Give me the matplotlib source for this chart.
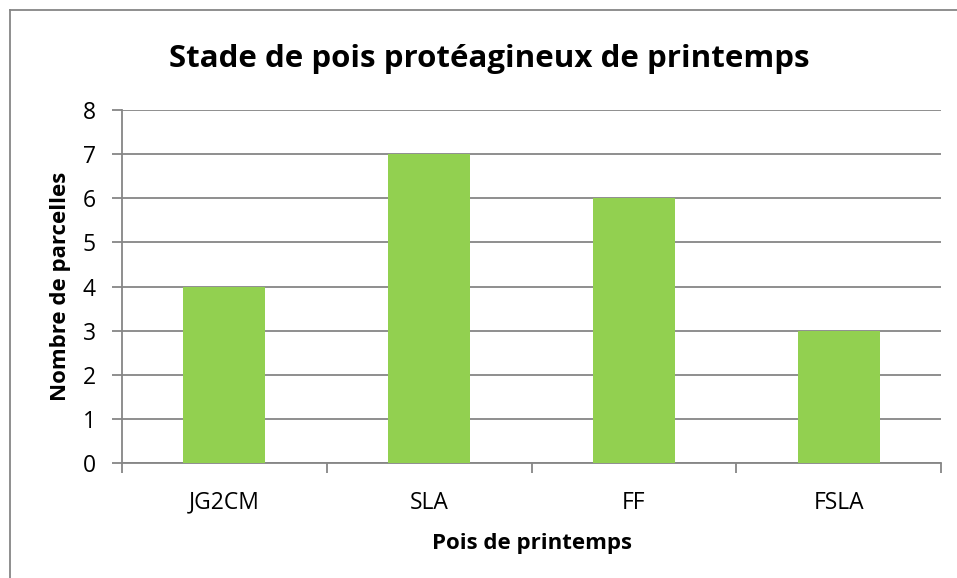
import matplotlib.pyplot as plt
from matplotlib.lines import Line2D
import numpy as np

categories = ["JG2CM", "SLA", "FF", "FSLA"]
values = [4, 7, 6, 3]
yticks = [0, 1, 2, 3, 4, 5, 6, 7, 8]

plt.rcParams['font.family'] = ['Open Sans', 'DejaVu Sans']

fig = plt.figure(figsize=(9.57, 5.78), dpi=100)
ax = fig.add_axes([122 / 957, 1 - 463 / 578, (941 - 122) / 957, (463 - 110) / 578])

x = np.arange(len(categories))
ax.bar(x, values, width=0.4, color="#92D050", zorder=3)

ax.set_xlim(-0.5, len(categories) - 0.5)
ax.set_ylim(0, 8)
ax.set_yticks(yticks)
ax.set_xticks(x)
ax.set_xticklabels(categories)
# separateurs de categories
ax.set_xticks(np.arange(-0.5, len(categories), 1.0), minor=True)

grid_col = "#868686"
ax.yaxis.grid(True, color=grid_col, linewidth=1.3, zorder=0)
for s in ["top", "right"]:
    ax.spines[s].set_visible(False)
for s in ["left", "bottom"]:
    ax.spines[s].set_color(grid_col)
    ax.spines[s].set_linewidth(1.3)

ax.tick_params(axis="y", length=7, width=1.3, color=grid_col, labelsize=16.5, pad=12)
ax.tick_params(axis="x", which="major", length=0, labelsize=16.5, pad=20)
ax.tick_params(axis="x", which="minor", length=7, width=1.3, color=grid_col)

ax.set_ylabel("Nombre de parcelles", fontsize=16, fontweight="bold", labelpad=8)
ax.set_xlabel("Pois de printemps", fontsize=16, fontweight="bold", labelpad=13)

fig.suptitle("Stade de pois protéagineux de printemps", fontsize=22.5, fontweight="bold",
             x=489 / 957, y=1 - 59 / 578, va="center")

# bordure du graphique (haut et gauche visibles)
fig.add_artist(Line2D([10 / 957, 10 / 957], [0, 1 - 10 / 578], transform=fig.transFigure,
                      color=grid_col, linewidth=1.3))
fig.add_artist(Line2D([10 / 957, 1], [1 - 10 / 578, 1 - 10 / 578], transform=fig.transFigure,
                      color=grid_col, linewidth=1.3))

fig.savefig("out.png", dpi=100)
